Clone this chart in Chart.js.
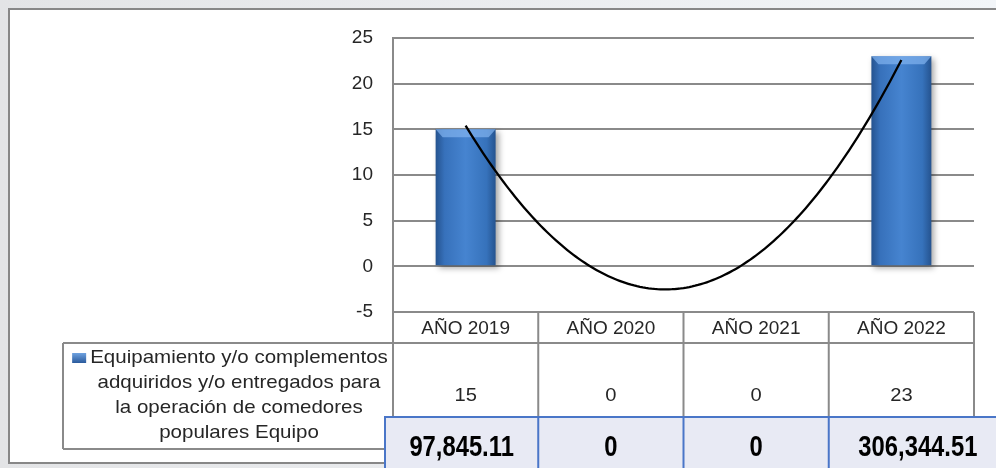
<!DOCTYPE html>
<html>
<head>
<meta charset="utf-8">
<script src="https://cdn.jsdelivr.net/npm/chart.js@4.4.0/dist/chart.umd.min.js"></script>
<style>
  html, body { margin: 0; padding: 0; width: 996px; height: 468px; overflow: hidden;
    background: linear-gradient(to right, #e3e4e6, #f2f5f8); }
  #frame { position: absolute; left: 8px; top: 8px; width: 1000px; height: 452px;
    border: 2px solid #878787; background: #fff; }
  canvas { position: absolute; left: 0; top: 0; }
</style>
</head>
<body>
<div id="frame"></div>
<canvas id="chart" width="996" height="468"></canvas>
<script>
// data
const categories = ['AÑO 2019', 'AÑO 2020', 'AÑO 2021', 'AÑO 2022'];
const equipo = [15, 0, 0, 23];
const montos = ['97,845.11', '0', '0', '306,344.51'];
const seriesLines = ['Equipamiento y/o complementos', 'adquiridos y/o entregados para',
  'la operación de comedores', 'populares Equipo'];
const yTicks = { min: -5, max: 25, step: 5 };

const FONT = '"Liberation Sans", Arial, sans-serif';
const GRID = '#8a8a8a';
const TEXT = '#262626';

function barGradient(c) {
  const chart = c.chart;
  const xs = chart.scales.x;
  if (!xs || c.dataIndex === undefined) return '#3c78c4';
  const cx = xs.getPixelForValue(c.dataIndex);
  if (!isFinite(cx)) return '#3c78c4';
  const half = 30;
  const g = chart.ctx.createLinearGradient(cx - half, 0, cx + half, 0);
  g.addColorStop(0, '#25538f');
  g.addColorStop(0.15, '#3771bb');
  g.addColorStop(0.5, '#4684d0');
  g.addColorStop(0.85, '#3672bb');
  g.addColorStop(1, '#25538f');
  return g;
}

// soft shadow behind the bars
const shadowPlugin = {
  id: 'barShadow',
  beforeDatasetsDraw(chart) {
    const ctx = chart.ctx;
    ctx.save();
    ctx.shadowColor = 'rgba(0,0,0,0.35)';
    ctx.shadowBlur = 6;
    ctx.shadowOffsetX = 3;
    ctx.shadowOffsetY = 3;
  },
  afterDatasetsDraw(chart) {
    chart.ctx.restore();
  }
};

// bevel on top of each bar
const bevelPlugin = {
  id: 'bevel',
  afterDatasetsDraw(chart) {
    const ctx = chart.ctx;
    chart.getDatasetMeta(0).data.forEach((bar, i) => {
      if (!equipo[i]) return;
      const l = bar.x - bar.width / 2, r = bar.x + bar.width / 2, t = bar.y;
      ctx.save();
      ctx.fillStyle = 'rgba(130,180,240,0.7)';
      ctx.beginPath();
      ctx.moveTo(l, t); ctx.lineTo(r, t); ctx.lineTo(r - 7, t + 8); ctx.lineTo(l + 7, t + 8);
      ctx.closePath(); ctx.fill();
      ctx.restore();
    });
  }
};

// polynomial (order 2) trendline, least squares on the series
const trendPlugin = {
  id: 'trend',
  afterDatasetsDraw(chart) {
    const n = equipo.length;
    let s = [0, 0, 0, 0, 0], sy = [0, 0, 0];
    equipo.forEach((y, i) => {
      const x = i + 1;
      for (let k = 0; k < 5; k++) s[k] += Math.pow(x, k);
      for (let k = 0; k < 3; k++) sy[k] += y * Math.pow(x, k);
    });
    // solve 3x3 normal equations
    const M = [[s[0], s[1], s[2], sy[0]], [s[1], s[2], s[3], sy[1]], [s[2], s[3], s[4], sy[2]]];
    for (let i = 0; i < 3; i++) {
      for (let j = i + 1; j < 3; j++) {
        const f = M[j][i] / M[i][i];
        for (let k = i; k < 4; k++) M[j][k] -= f * M[i][k];
      }
    }
    const coef = [0, 0, 0];
    for (let i = 2; i >= 0; i--) {
      let v = M[i][3];
      for (let k = i + 1; k < 3; k++) v -= M[i][k] * coef[k];
      coef[i] = v / M[i][i];
    }
    const xs = chart.scales.x, ys = chart.scales.y, ctx = chart.ctx;
    ctx.save();
    ctx.strokeStyle = '#000';
    ctx.lineWidth = 2.3;
    ctx.beginPath();
    for (let t = 0; t <= (n - 1) * 50; t++) {
      const xi = t / 50;
      const x = xi + 1;
      const y = coef[0] + coef[1] * x + coef[2] * x * x;
      const px = xs.getPixelForValue(xi), py = ys.getPixelForValue(y);
      if (t === 0) ctx.moveTo(px, py); else ctx.lineTo(px, py);
    }
    ctx.stroke();
    ctx.restore();
  }
};

function stretchedText(ctx, txt, x, y, sx) {
  ctx.save();
  ctx.translate(x, y);
  ctx.scale(sx, 1);
  ctx.fillText(txt, 0, 0);
  ctx.restore();
}

// data table under the plot
const tablePlugin = {
  id: 'table',
  afterDraw(chart) {
    const ctx = chart.ctx, xs = chart.scales.x, area = chart.chartArea;
    const top = area.bottom, headBottom = 343, rowBottom = 449, legendLeft = 63;
    const edges = categories.map((c, i) => xs.getPixelForValue(i - 0.5));
    edges.push(xs.getPixelForValue(categories.length - 0.5));
    ctx.save();
    ctx.strokeStyle = GRID;
    ctx.lineWidth = 2;
    ctx.beginPath();
    edges.forEach(x => { ctx.moveTo(x, top); ctx.lineTo(x, rowBottom); });
    ctx.moveTo(legendLeft, headBottom); ctx.lineTo(area.right, headBottom);
    ctx.moveTo(legendLeft, headBottom); ctx.lineTo(legendLeft, rowBottom);
    ctx.moveTo(legendLeft, rowBottom); ctx.lineTo(area.right, rowBottom);
    ctx.stroke();

    ctx.fillStyle = TEXT;
    ctx.font = '19px ' + FONT;
    ctx.textAlign = 'center';
    ctx.textBaseline = 'middle';
    equipo.forEach((v, i) => stretchedText(ctx, String(v), xs.getPixelForValue(i), 396, 1.06));

    // series name + marker
    const cx = 239, sx = 1.08;
    seriesLines.forEach((line, i) => stretchedText(ctx, line, cx, 358 + i * 25, sx));
    const w0 = ctx.measureText(seriesLines[0]).width * sx;
    const mx = cx - w0 / 2 - 18;
    const mg = ctx.createLinearGradient(0, 353, 0, 363);
    mg.addColorStop(0, '#6fa2e0'); mg.addColorStop(1, '#2a5a9c');
    ctx.fillStyle = mg;
    ctx.fillRect(mx, 353, 14, 10);

    // amounts row (overhangs the plot: left edge 385, last cell runs past the window)
    const bl = 385, bt = 417, br = 1007;
    ctx.fillStyle = '#e8eaf4';
    ctx.fillRect(bl, bt, br - bl, 60);
    ctx.strokeStyle = '#4a76c8';
    ctx.lineWidth = 2;
    ctx.beginPath();
    ctx.moveTo(bl, 470); ctx.lineTo(bl, bt); ctx.lineTo(br, bt);
    for (let i = 1; i < categories.length; i++) { ctx.moveTo(edges[i], bt); ctx.lineTo(edges[i], 470); }
    ctx.stroke();
    ctx.fillStyle = '#000';
    ctx.font = 'bold 29px "Liberation Sans Narrow", "Arial Narrow", ' + FONT;
    const cellEdges = [bl, edges[1], edges[2], edges[3], br];
    montos.forEach((m, i) => stretchedText(ctx, m, (cellEdges[i] + cellEdges[i + 1]) / 2, 448, 0.82));
    ctx.restore();
  }
};

new Chart(document.getElementById('chart'), {
  type: 'bar',
  data: {
    labels: categories,
    datasets: [{
      label: seriesLines.join(' '),
      data: equipo,
      backgroundColor: barGradient,
      borderWidth: 0,
      barPercentage: 0.413,
      categoryPercentage: 1
    }]
  },
  options: {
    responsive: false,
    animation: false,
    layout: { padding: { left: 0, top: 38, right: 22, bottom: 0 } },
    plugins: { legend: { display: false }, tooltip: { enabled: false } },
    scales: {
      x: {
        grid: { display: false, drawTicks: false },
        border: { display: false },
        ticks: { color: TEXT, font: { family: FONT, size: 19 }, padding: 5, maxRotation: 0 },
        afterFit(scale) { scale.height = 156; }
      },
      y: {
        min: yTicks.min,
        max: yTicks.max,
        grid: { color: GRID, lineWidth: 2, drawTicks: false },
        border: { display: true, color: GRID, width: 2 },
        ticks: { stepSize: yTicks.step, color: TEXT, font: { family: FONT, size: 19 }, padding: 20 },
        afterFit(scale) { scale.width = 393; }
      }
    }
  },
  plugins: [shadowPlugin, bevelPlugin, trendPlugin, tablePlugin]
});
</script>
</body>
</html>
